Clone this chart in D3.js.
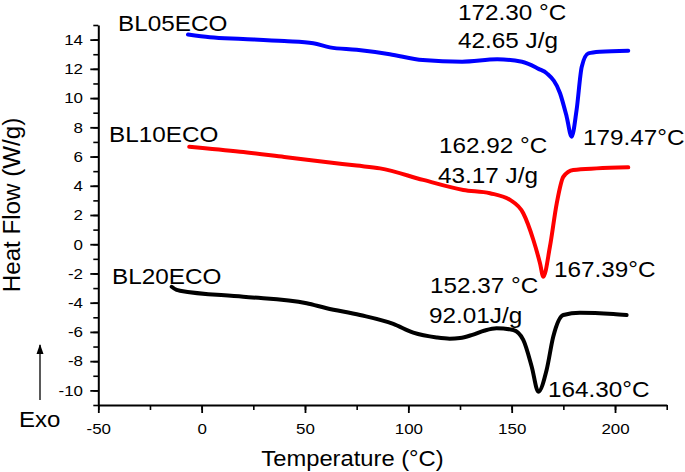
<!DOCTYPE html>
<html>
<head>
<meta charset="utf-8">
<script src="https://cdn.jsdelivr.net/npm/d3@7"></script>
<style>
  html, body { margin: 0; padding: 0; background: #fff; }
  svg { display: block; font-family: "Liberation Sans", Arial, Helvetica, sans-serif; }
</style>
</head>
<body>
<svg id="chart" width="685" height="472"></svg>
<script>
// ---- Data ----
const xTicks = [-50, 0, 50, 100, 150, 200];
const yTicks = [-10, -8, -6, -4, -2, 0, 2, 4, 6, 8, 10, 12, 14];

const tempBL05 = [-6.6, 4, 20, 40, 54, 62, 75, 91, 107, 126, 143, 155, 163, 167, 173.4, 176.6, 179.0, 181.4, 183.9, 187.1, 192.7, 206.4];
const heatBL05 = [14.35, 14.16, 14.05, 13.9, 13.75, 13.47, 13.3, 13.0, 12.6, 12.49, 12.65, 12.49, 12.0, 11.69, 10.33, 8.73, 7.36, 9.18, 12.15, 13.06, 13.17, 13.24];

const tempBL10 = [-6.0, 18.6, 40, 60, 75, 86.3, 107.2, 126.6, 139.5, 149.2, 155.6, 160.5, 163.7, 165.3, 168.5, 171.8, 175, 179.8, 191.1, 206.4];
const heatBL10 = [6.67, 6.33, 5.97, 5.63, 5.38, 5.19, 4.40, 3.71, 3.49, 3.03, 2.12, 0.29, -1.30, -2.22, -0.17, 2.80, 4.62, 5.08, 5.19, 5.26];

const tempBL20 = [-14.5, -12.1, -10.5, 20.1, 50.8, 60.5, 76.6, 92.7, 102.4, 113.7, 120, 125, 131, 137, 142.7, 150.8, 155.6, 159.7, 162.9, 166.9, 170.1, 175, 183.0, 199.2, 205.6];
const heatBL20 = [-2.91, -3.13, -3.18, -3.59, -4.04, -4.38, -4.84, -5.45, -6.05, -6.38, -6.46, -6.42, -6.2, -5.9, -5.75, -5.87, -6.55, -8.38, -10.09, -8.6, -6.33, -4.84, -4.68, -4.77, -4.84];

const seriesNames = ["BL05ECO", "BL10ECO", "BL20ECO"];
const seriesColors = ["#0000ff", "#ff0000", "#000000"];

// annotation texts
const annotBL05 = ["172.30 °C", "42.65 J/g", "179.47°C"];
const annotBL10 = ["162.92 °C", "43.17 J/g", "167.39°C"];
const annotBL20 = ["152.37 °C", "92.01J/g", "164.30°C"];

const xTitle = "Temperature (°C)";
const yTitle = "Heat Flow (W/g)";
const exoLabel = "Exo";

// ---- Drawing ----
const svg = d3.select("#chart");
const x = d3.scaleLinear().domain([-50, 225]).range([98.3, 666.7]);
const y = d3.scaleLinear().domain([-11, 15]).range([405, 25]);

function stretchedText(g, px, py, txt, size, sx, anchor) {
  const t = g.append("g").attr("transform", `translate(${px},${py}) scale(${sx},1)`)
    .append("text").attr("x", 0).attr("y", 0)
    .attr("font-size", size).attr("fill", "#000")
    .attr("text-anchor", anchor || "start").text(txt);
  return t;
}

const fmt = d => String(d);

// minor ticks
svg.append("g").attr("transform", `translate(0,405)`)
  .call(d3.axisBottom(x).tickValues(d3.range(-50, 226, 25)).tickSize(5).tickFormat(""))
  .call(g => g.select(".domain").remove())
  .call(g => g.selectAll("line").attr("stroke-width", 1.6));
svg.append("g").attr("transform", `translate(98.3,0)`)
  .call(d3.axisLeft(y).tickValues(d3.range(-11, 15.01, 1)).tickSize(5).tickFormat(""))
  .call(g => g.select(".domain").remove())
  .call(g => g.selectAll("line").attr("stroke-width", 1.6));

// major axes
const tickSx = 1.13;
const xAxisG = svg.append("g").attr("transform", `translate(0,405)`)
  .call(d3.axisBottom(x).tickValues(xTicks).tickFormat(fmt).tickSize(8).tickSizeOuter(0).tickPadding(10));
xAxisG.select(".domain").attr("stroke-width", 2);
xAxisG.selectAll("line").attr("stroke-width", 1.8);
xAxisG.selectAll("text").attr("font-size", 15).attr("font-family", "Liberation Sans, Arial, sans-serif")
  .attr("fill", "#000").attr("transform", `scale(${tickSx},1)`);

const yAxisG = svg.append("g").attr("transform", `translate(98.3,0)`)
  .call(d3.axisLeft(y).tickValues(yTicks).tickFormat(fmt).tickSize(8).tickSizeOuter(0).tickPadding(7));
yAxisG.select(".domain").attr("stroke-width", 2);
yAxisG.selectAll("line").attr("stroke-width", 1.8);
yAxisG.selectAll("text").attr("font-size", 15).attr("font-family", "Liberation Sans, Arial, sans-serif")
  .attr("fill", "#000").attr("x", -15.3 / tickSx).attr("transform", `scale(${tickSx},1)`);

// curves
const line = d3.line().x(d => x(d[0])).y(d => y(d[1])).curve(d3.curveMonotoneX);
const allSeries = [
  d3.zip(tempBL05, heatBL05),
  d3.zip(tempBL10, heatBL10),
  d3.zip(tempBL20, heatBL20)
];
allSeries.forEach((pts, i) => {
  svg.append("path").datum(pts).attr("d", line)
    .attr("fill", "none").attr("stroke", seriesColors[i])
    .attr("stroke-width", 4).attr("stroke-linejoin", "round").attr("stroke-linecap", "round");
});

// annotations
const ann = svg.append("g");
const aSize = 21.5, aSx = 1.13;
stretchedText(ann, 118, 31, seriesNames[0], aSize, aSx);
stretchedText(ann, 109, 142, seriesNames[1], aSize, aSx);
stretchedText(ann, 112, 284, seriesNames[2], aSize, aSx);

stretchedText(ann, 458, 20, annotBL05[0], aSize, aSx);
stretchedText(ann, 458, 48, annotBL05[1], aSize, aSx);
stretchedText(ann, 583, 145, annotBL05[2], aSize, aSx);

stretchedText(ann, 439, 153, annotBL10[0], aSize, aSx);
stretchedText(ann, 438, 183, annotBL10[1], aSize, aSx);
stretchedText(ann, 554, 277, annotBL10[2], aSize, aSx);

stretchedText(ann, 430, 293, annotBL20[0], aSize, aSx);
stretchedText(ann, 429, 323, annotBL20[1], aSize, aSx);
stretchedText(ann, 548, 397, annotBL20[2], aSize, aSx);

// axis titles
stretchedText(svg, 352.5, 466, xTitle, 22, 1.08, "middle");
svg.append("g").attr("transform", `translate(20,205) rotate(-90) scale(1.05,1)`)
  .append("text").attr("font-size", 23).attr("text-anchor", "middle").attr("fill", "#000").text(yTitle);

// Exo arrow
const defs = svg.append("defs");
defs.append("marker").attr("id", "arrowHead").attr("viewBox", "0 0 10 10")
  .attr("refX", 9).attr("refY", 5).attr("markerWidth", 10).attr("markerHeight", 10)
  .attr("markerUnits", "userSpaceOnUse").attr("orient", "auto")
  .append("path").attr("d", "M0,1.5 L10,5 L0,8.5 Z").attr("fill", "#000");
svg.append("line").attr("x1", 40).attr("y1", 400).attr("x2", 40).attr("y2", 345)
  .attr("stroke", "#000").attr("stroke-width", 1.3).attr("marker-end", "url(#arrowHead)");
stretchedText(svg, 19, 427, exoLabel, 21.5, 1.12);
</script>
</body>
</html>
